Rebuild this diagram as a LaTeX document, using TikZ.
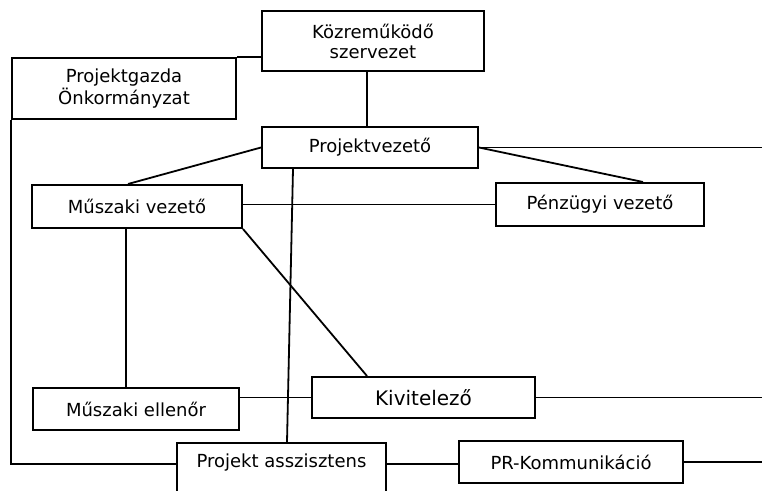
\documentclass[tikz,border=0pt]{standalone}
\usepackage{fontspec}
\setmainfont{DejaVu Sans}
\usepackage{tikz}

\tikzset{
  orgbox/.style={draw, line width=1.5pt, inner sep=0pt, align=center, font=\fontsize{13.5}{15}\selectfont},
  orglink/.style={line width=1.35pt}
}

\begin{document}
\begin{tikzpicture}[x=0.75pt,y=0.75pt,yscale=-1,xscale=1]
    \useasboundingbox (0,0) rectangle (762,491);
    \clip (0,0) rectangle (762,491);
    \coordinate (redge) at (762,0);

    %Shape: Rectangle [Közreműködő szervezet]
    \node [orgbox, minimum width=166.5pt, minimum height=45pt] (kozre) at (373,41) {Közreműködő\\szervezet};
    %Shape: Rectangle [Projektgazda]
    \node [orgbox, minimum width=168pt, minimum height=45.75pt] (gazda) at (124,88.5) {Projektgazda\\Önkormányzat};
    %Shape: Rectangle [Projektvezető]
    \node [orgbox, minimum width=162pt, minimum height=30.75pt] (pvez) at (370,147.5) {Projektvezető};
    %Shape: Rectangle [Műszaki vezető]
    \node [orgbox, minimum width=157.5pt, minimum height=32.25pt] (muvez) at (137,206.5) {Műszaki vezető};
    %Shape: Rectangle [Pénzügyi vezető]
    \node [orgbox, minimum width=156pt, minimum height=32.25pt] (penz) at (600,204.5) {Pénzügyi vezető};
    %Shape: Rectangle [Műszaki ellenőr]
    \node [orgbox, minimum width=154.5pt, minimum height=31.5pt] (muell) at (136,409) {Műszaki ellenőr};
    %Shape: Rectangle [Kivitelező]
    \node [orgbox, minimum width=167.25pt, minimum height=30.75pt, font=\fontsize{15}{17}\selectfont] (kivit) at (423.5,397.5) {Kivitelező};
    %Shape: Rectangle [Projekt asszisztens]
    \node [orgbox, minimum width=156.75pt, anchor=north, inner ysep=8pt, text depth=50pt] (asszi) at (281.5,442) {Projekt asszisztens};
    %Shape: Rectangle [PR-Kommunikáció]
    \node [orgbox, minimum width=168pt, minimum height=31.5pt] (pr) at (571,462) {PR-Kommunikáció};

    %Straight Lines
    \draw [orglink] (gazda.north east) -- (gazda.north east -| kozre.west);
    %Straight Lines
    \draw [orglink] ([xshift=-4.5pt]kozre.south) -- ([xshift=-4.5pt]kozre.south |- pvez.north);
    %Straight Lines
    \draw [orglink] (pvez.west) -- ([xshift=-6.75pt]muvez.north);
    %Straight Lines
    \draw [orglink] (pvez.east) -- (pvez.east -| redge);
    %Straight Lines
    \draw [orglink] (pvez.east) -- ([xshift=32.25pt]penz.north);
    %Straight Lines
    \draw [orglink] (penz.west -| muvez.east) -- (penz.west);
    %Straight Lines
    \draw [orglink] ([xshift=-57.75pt]pvez.south) -- ([xshift=4.125pt]asszi.north);
    %Straight Lines
    \draw [orglink] ([xshift=-8.25pt]muvez.south) -- ([xshift=-8.25pt]muvez.south |- muell.north);
    %Straight Lines
    \draw [orglink] (muvez.south east) -- ([xshift=-42.375pt]kivit.north);
    %Straight Lines
    \draw [orglink] (kivit.west) -- (kivit.west -| muell.east);
    %Straight Lines
    \draw [orglink] (kivit.east) -- (kivit.east -| redge);
    %Straight Lines
    \draw [orglink] (gazda.south west) |- (asszi.mid west);
    %Straight Lines
    \draw [orglink] (asszi.mid east) -- (asszi.mid east -| pr.west);
    %Straight Lines
    \draw [orglink] (pr.east) -- (pr.east -| redge);
\end{tikzpicture}
\end{document}
